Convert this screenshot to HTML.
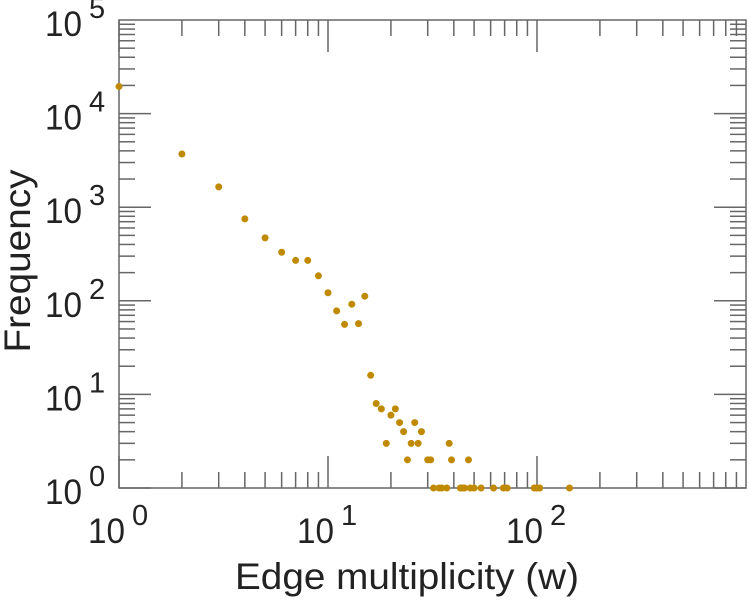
<!DOCTYPE html>
<html><head><meta charset="utf-8"><style>
html,body{margin:0;padding:0;background:#fff;}
svg{display:block;font-family:"Liberation Sans",sans-serif;}
</style></head><body>
<svg id="chart" width="749" height="600">
<g id="axes"></g>
<g id="points"></g>
<text x="407" y="589" font-size="37" text-anchor="middle" fill="#222" textLength="344" lengthAdjust="spacingAndGlyphs">Edge multiplicity (w)</text>
<text transform="translate(30,261) rotate(-90)" font-size="37" text-anchor="middle" fill="#222" textLength="183" lengthAdjust="spacingAndGlyphs">Frequency</text>
</svg>
<script>
const xValues=[1,2,3,4,5,6,7,8,9,10,11,12,13,14,15,16,17,18,19,20,21,22,23,24,25,26,27,28,30,31,38,39,47,32,34,35,37,43,44,45,48,50,54,62,69,72,97,99,100,103,143];
const yValues=[19500,3700,1650,750,470,330,270,270,185,122,78,56,92,57,112,16,8,7,3,6,7,5,4,2,3,5,3,4,2,2,3,2,2,1,1,1,1,1,1,1,1,1,1,1,1,1,1,1,1,1,1];
const xTickExps=[0,1,2];
const yTickExps=[0,1,2,3,4,5];
const L=119,R=746,T=20,B=488;
const xDec=209, yDec=(B-T)/5;
function sx(v){return L+Math.log10(v)*xDec;}
function sy(v){return B-Math.log10(v)*yDec;}
const ns="http://www.w3.org/2000/svg";
const ax=document.getElementById('axes');
function line(x1,y1,x2,y2,name){const l=document.createElementNS(ns,'line');l.setAttribute('x1',x1);l.setAttribute('y1',y1);l.setAttribute('x2',x2);l.setAttribute('y2',y2);l.setAttribute('stroke','#666');l.setAttribute('stroke-width','1.5');


ax.appendChild(l);}
const box=document.createElementNS(ns,'rect');box.setAttribute('x',L);box.setAttribute('y',T);box.setAttribute('width',R-L);box.setAttribute('height',B-T);box.setAttribute('fill','none');box.setAttribute('stroke','#666');box.setAttribute('stroke-width','1.5');


ax.appendChild(box);
for(let d=0;d<3;d++){for(let k=1;k<10;k++){const x=sx(k*Math.pow(10,d));if(x>R+1)continue;const len=k===1?32:16;line(x,B,x,B-len,'x-tick');line(x,T,x,T+len,'x-tick');}}
for(let d=0;d<5;d++){for(let k=1;k<10;k++){const y=sy(k*Math.pow(10,d));const len=k===1?32:16;line(L,y,L+len,y,'y-tick');line(R,y,R-len,y,'y-tick');}}
function label(x,y,e,name){const t=document.createElementNS(ns,'text');t.setAttribute('x',x);t.setAttribute('y',y);t.setAttribute('font-size','35');t.setAttribute('fill','#222');t.setAttribute('text-anchor','start');


t.innerHTML='<tspan textLength="37" lengthAdjust="spacingAndGlyphs">10</tspan><tspan dy="-18" font-size="29" dx="7">'+e+'</tspan>';ax.appendChild(t);}
xTickExps.forEach(e=>label(sx(Math.pow(10,e))-31,543,e,'x-tick-label'));
yTickExps.forEach(e=>label(45,sy(Math.pow(10,e))+16,e,'y-tick-label'));
const pg=document.getElementById('points');
xValues.forEach((v,i)=>{const c=document.createElementNS(ns,'circle');c.setAttribute('cx',sx(v));c.setAttribute('cy',sy(yValues[i]));c.setAttribute('r','3.5');c.setAttribute('fill','#c08a00');


pg.appendChild(c);});
</script>
</body></html>
